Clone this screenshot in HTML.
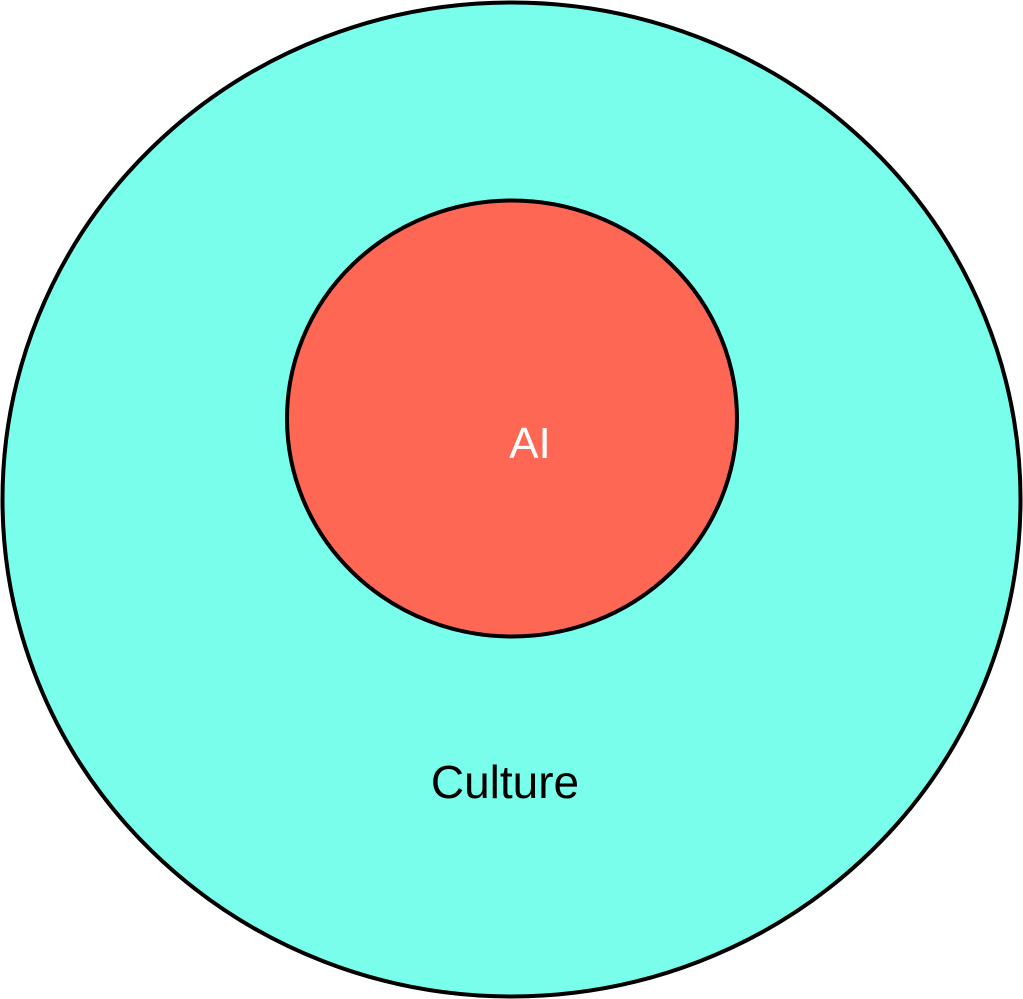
<!DOCTYPE html>
<html><head><meta charset="utf-8"><style>
html,body{margin:0;padding:0;background:#fff;}
svg{display:block;}
</style></head><body>
<svg width="1023" height="999" viewBox="0 0 1023 999" xmlns="http://www.w3.org/2000/svg">
<ellipse cx="511.5" cy="499.5" rx="509" ry="497" fill="#78FEEA" stroke="#000" stroke-width="4"/>
<ellipse cx="512" cy="418.5" rx="225" ry="218" fill="#FE6753" stroke="#000" stroke-width="4"/>
<text x="530" y="458" font-family="Liberation Sans, sans-serif" font-size="44" fill="#fff" text-anchor="middle">AI</text>
<text x="505" y="798" font-family="Liberation Sans, sans-serif" font-size="46" fill="#000" text-anchor="middle">Culture</text>
</svg>
</body></html>
